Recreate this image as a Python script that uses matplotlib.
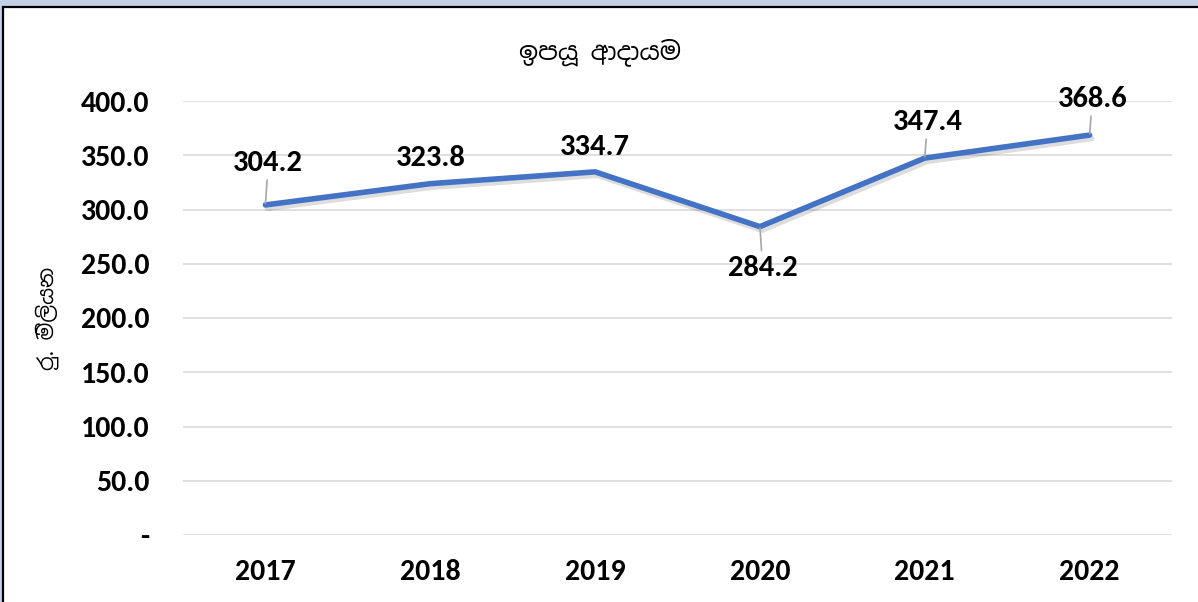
import matplotlib
matplotlib.use('Agg')
import matplotlib.pyplot as plt
import matplotlib.patheffects as pe
from matplotlib.patches import Rectangle
from matplotlib.ticker import FuncFormatter

# ── data ──────────────────────────────────────────────────────────────────────
years = ['2017', '2018', '2019', '2020', '2021', '2022']
income = [304.2, 323.8, 334.7, 284.2, 347.4, 368.6]
title = 'ඉපයූ ආදායම'
ylabel = 'රු. මිලියන'

# label offsets (pixels) and which labels get a leader line
label_dy = [42, 26, 25, -41, 36, 36]
leaders = {0, 3, 4, 5}

NUM_FONT = ['Carlito', 'Lato', 'DejaVu Sans']
SI_FONT = ['Noto Sans Sinhala', 'DejaVu Sans']

fig = plt.figure(figsize=(11.98, 6.02), dpi=100, facecolor='#C5D0E6')
fig.patches.append(Rectangle((2.5 / 1198, -0.02), 1.05, 1 - 6.5 / 602 + 0.02,
                             transform=fig.transFigure, facecolor='white',
                             edgecolor='black', linewidth=1.6, zorder=-5))

ax = fig.add_axes([183 / 1198, 1 - 535 / 602, (1172 - 183) / 1198, (535 - 101) / 602])
ax.set_facecolor('none')
x = range(len(years))
ax.plot(x, income, color='#4472C4', linewidth=4, solid_capstyle='round',
        solid_joinstyle='miter', zorder=4,
        path_effects=[pe.SimpleLineShadow(offset=(1.5, -2.5), shadow_color='#555555', alpha=0.2),
                      pe.Normal()])

for i, v in enumerate(income):
    dy = label_dy[i] * 0.72
    ax.annotate(f'{v:.1f}', xy=(i, v), xytext=(2 if i in leaders else 0, dy),
                textcoords='offset points', ha='center', va='center',
                fontsize=22, fontweight='bold', family=NUM_FONT, color='black', zorder=5,
                arrowprops=dict(arrowstyle='-', color='#A6A6A6', lw=1.2,
                                shrinkA=1, shrinkB=1) if i in leaders else None)

ax.set_xlim(-0.5, len(years) - 0.5)
ax.set_ylim(0, 400)
ax.set_yticks(range(0, 401, 50))
ax.yaxis.set_major_formatter(FuncFormatter(lambda v, p: '-' if v == 0 else f'{v:.1f}'))
ax.set_xticks(list(x))
ax.set_xticklabels(years)
ax.grid(axis='y', color='#D9D9D9', linewidth=1.2, zorder=0)
ax.set_axisbelow(True)
for s in ax.spines.values():
    s.set_visible(False)
ax.tick_params(length=0)
ax.tick_params(axis='y', pad=24)
ax.tick_params(axis='x', pad=17)
for lbl in ax.get_xticklabels() + ax.get_yticklabels():
    lbl.set_fontsize(21.5)
    lbl.set_fontweight('bold')
    lbl.set_family(NUM_FONT)

fig.text(600 / 1198, 1 - 52 / 602, title, ha='center', va='center',
         fontsize=18, fontweight='bold', family=SI_FONT)
fig.text(47 / 1198, 1 - 318 / 602, ylabel, ha='center', va='center',
         rotation=90, fontsize=15, family=SI_FONT)

fig.savefig('out.png', dpi=100, facecolor=fig.get_facecolor())
